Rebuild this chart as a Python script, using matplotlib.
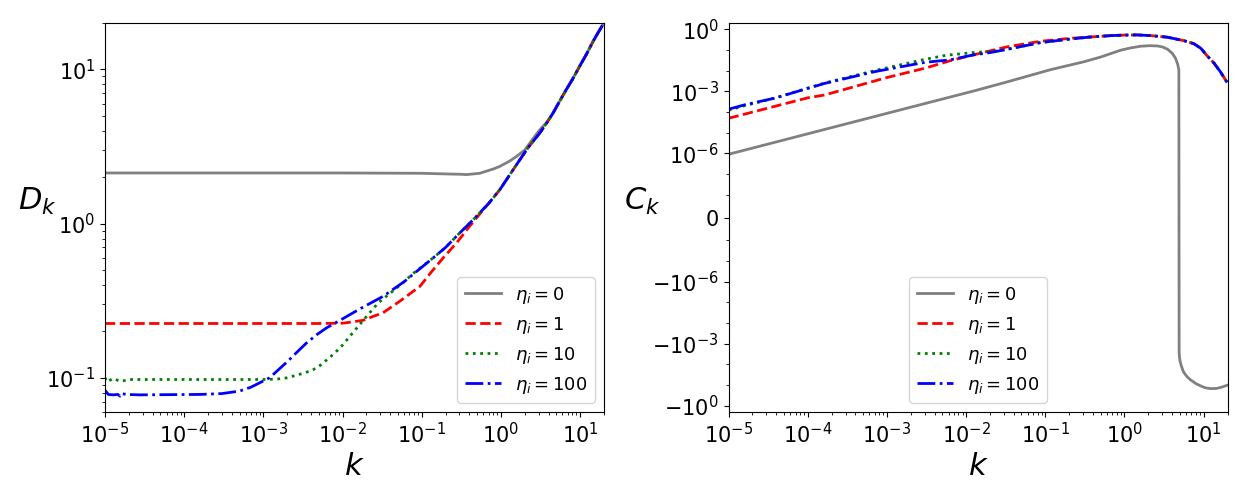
import matplotlib
matplotlib.use("Agg")
import matplotlib.pyplot as plt
import numpy as np
from matplotlib.ticker import FixedLocator

# ---- D_k (left panel) ----
k_d0 = [1e-5, 1e-4, 1e-3, 1e-2, 0.1, 0.2, 0.3, 0.37, 0.54, 0.8, 0.97, 1.3,
        1.58, 2.0, 2.32, 2.7, 3.1, 3.8, 4.57, 5.5, 6.7, 8.0, 10, 12, 14.6, 17, 20]
d_eta0 = [2.13, 2.13, 2.13, 2.13, 2.12, 2.10, 2.09, 2.08, 2.12, 2.26, 2.35, 2.55,
          2.73, 3.0, 3.33, 3.7, 4.06, 4.55, 5.22, 6.2, 7.4, 8.6, 10.6, 12.5,
          15.2, 17.4, 20.0]

k_d1 = [1e-5, 1e-4, 1e-3, 5e-3, 0.01, 0.0123, 0.0182, 0.0243, 0.0325, 0.053,
        0.095, 0.13, 0.187, 0.276, 0.37, 0.5, 0.7, 0.97, 1.3, 1.74, 2.2, 3.1,
        3.8, 4.57, 5.5, 6.7, 8.0, 10, 12, 14.6, 17, 20]
d_eta1 = [0.225, 0.225, 0.225, 0.225, 0.226, 0.229, 0.236, 0.25, 0.264, 0.314,
          0.392, 0.48, 0.6, 0.75, 0.91, 1.1, 1.35, 1.66, 2.08, 2.6, 3.1, 3.87,
          4.5, 5.22, 6.2, 7.4, 8.6, 10.6, 12.5, 15.2, 17.4, 20.0]

k_d10 = [1e-5, 1.05e-5, 1.27e-5, 1.55e-5, 2.17e-5, 1e-4, 1e-3, 1.47e-3, 2e-3,
         2.63e-3, 3.4e-3, 4.27e-3, 5.3e-3, 6.6e-3, 8e-3, 9.7e-3, 0.0136, 0.0192,
         0.0282, 0.0417, 0.06, 0.078, 0.14, 0.2, 0.276, 0.447, 0.7, 0.97, 1.3,
         1.74, 2.2, 3.1, 3.8, 4.57, 5.5, 6.7, 8.0, 10, 12, 14.6, 17, 20]
d_eta10 = [0.1, 0.094, 0.099, 0.095, 0.0975, 0.0975, 0.0975, 0.098, 0.1,
           0.104, 0.108, 0.113, 0.121, 0.133, 0.145, 0.16, 0.197, 0.243,
           0.306, 0.36, 0.42, 0.475, 0.6, 0.7, 0.83, 1.06, 1.35, 1.66, 2.08,
           2.6, 3.1, 3.87, 4.5, 5.22, 6.2, 7.4, 8.6, 10.6, 12.5, 15.2, 17.4, 20.0]

k_d100 = [1e-5, 1.1e-5, 1.27e-5, 1.45e-5, 1.55e-5, 1.6e-5, 1.87e-5, 2.7e-5,
          1.58e-4, 3e-4, 5e-4, 7e-4, 9.06e-4, 1.2e-3, 1.47e-3, 2e-3, 2.6e-3,
          3.5e-3, 4.7e-3, 6.3e-3, 8.4e-3, 0.0166, 0.0327, 0.06, 0.095, 0.14,
          0.2, 0.276, 0.447, 0.7, 0.97, 1.3, 1.74, 2.2, 3.1, 3.8, 4.57, 5.5,
          6.7, 8.0, 10, 12, 14.6, 17, 20]
d_eta100 = [0.083, 0.078, 0.0775, 0.078, 0.076, 0.079, 0.078, 0.0775,
            0.078, 0.079, 0.082, 0.087, 0.093, 0.1, 0.11, 0.127, 0.145,
            0.168, 0.19, 0.211, 0.229, 0.28, 0.338, 0.42, 0.51, 0.6,
            0.7, 0.83, 1.06, 1.35, 1.66, 2.08, 2.6, 3.1, 3.87, 4.5, 5.22, 6.2,
            7.4, 8.6, 10.6, 12.5, 15.2, 17.4, 20.0]

# ---- C_k (right panel) ----
k_c0 = [1e-5, 1e-4, 1e-3, 0.013, 0.0327, 0.116, 0.2, 0.3, 0.5, 0.7, 0.89,
        1.2, 1.6, 2.1, 2.6, 3.0, 3.5, 4.0, 4.4, 4.7, 4.86, 4.90, 4.95, 5.05,
        5.2, 5.4, 5.6, 6.2, 6.8, 8.0, 9.2, 10.5, 12.3, 14.5, 17, 20]
c_eta0 = [8.9e-7, 8.7e-6, 8.5e-5, 1.07e-3, 2.8e-3, 0.011, 0.018, 0.026, 0.045,
          0.07, 0.096, 0.125, 0.15, 0.16, 0.155, 0.14, 0.108, 0.069, 0.04,
          0.02, 0.0107, -0.0026, -0.0045, -0.0075, -0.011, -0.017, -0.024,
          -0.04, -0.055, -0.085, -0.11, -0.135, -0.148, -0.145, -0.125, -0.1]

k_c1 = [1e-5, 1e-4, 1.64e-4, 1e-3, 3.03e-3, 6.3e-3, 0.0123, 0.0201, 0.0327,
        0.0865, 0.2, 0.37, 0.67, 1.0, 1.45, 2.16, 3.5, 5.6, 7.5, 9.2, 11.1,
        13.5, 16.2, 20]
c_eta1 = [4.9e-5, 4.8e-4, 6.6e-4, 4.6e-3, 0.013, 0.03, 0.057, 0.09, 0.14,
          0.26, 0.36, 0.42, 0.49, 0.52, 0.53, 0.49, 0.41, 0.28, 0.2, 0.12,
          0.051, 0.023, 0.0089, 0.0025]

k_c10 = [1e-5, 1.6e-5, 3.8e-5, 1.64e-4, 7.05e-4, 3.03e-3, 5.6e-3, 7.7e-3,
         0.0123, 0.0165, 0.0201, 0.0327, 0.0865, 0.2, 0.37, 0.67, 1.0, 1.45,
         2.16, 3.5, 5.6, 7.5, 9.2, 11.1, 13.5, 16.2, 20]
c_eta10 = [1.2e-4, 2e-4, 4.6e-4, 2.5e-3, 0.01, 0.035, 0.055, 0.062, 0.074,
           0.08, 0.084, 0.107, 0.225, 0.33, 0.42, 0.49, 0.52, 0.53, 0.49,
           0.41, 0.28, 0.2, 0.12, 0.051, 0.023, 0.0089, 0.0025]

k_c100 = [1e-5, 1.6e-5, 3.8e-5, 1.64e-4, 7.05e-4, 3.03e-3, 6.3e-3, 0.0123,
          0.0201, 0.0327, 0.0865, 0.2, 0.37, 0.67, 1.0, 1.45, 2.16, 3.5, 5.6,
          7.5, 9.2, 11.1, 13.5, 16.2, 20]
c_eta100 = [1.35e-4, 2.2e-4, 4.6e-4, 2.4e-3, 8.9e-3, 0.025, 0.033, 0.057,
            0.074, 0.105, 0.225, 0.33, 0.42, 0.49, 0.52, 0.53, 0.49, 0.41,
            0.28, 0.2, 0.12, 0.051, 0.023, 0.0089, 0.0025]

labels = [r'$\eta_i = 0$', r'$\eta_i = 1$', r'$\eta_i = 10$', r'$\eta_i = 100$']
colors = ['gray', 'red', 'green', 'blue']
styles = ['-', '--', ':', '-.']

fig, (ax1, ax2) = plt.subplots(1, 2, figsize=(12.5, 5), dpi=100)
fig.subplots_adjust(left=0.084, right=0.982, bottom=0.176, top=0.954, wspace=0.25)

# lewy panel
for kk, dd, c, s, lab in zip([k_d0, k_d1, k_d10, k_d100],
                             [d_eta0, d_eta1, d_eta10, d_eta100],
                             colors, styles, labels):
    ax1.plot(kk, dd, color=c, linestyle=s, linewidth=2, label=lab)
ax1.set_xscale('log')
ax1.set_yscale('log')
ax1.set_xlim(1e-5, 20)
ax1.set_ylim(0.06, 20)
ax1.set_xlabel(r'$k$', fontsize=22)
ax1.set_ylabel(r'$D_k$', fontsize=22, rotation=0)
ax1.yaxis.set_label_coords(-0.136, 0.5)
ax1.tick_params(labelsize=15)
ax1.legend(loc='lower right', fontsize=13)

# prawy panel
for kk, cc, c, s, lab in zip([k_c0, k_c1, k_c10, k_c100],
                             [c_eta0, c_eta1, c_eta10, c_eta100],
                             colors, styles, labels):
    ax2.plot(kk, cc, color=c, linestyle=s, linewidth=2, label=lab)
ax2.set_xscale('log')
ax2.set_yscale('symlog', linthresh=1e-8)
ax2.set_xlim(1e-5, 20)
ax2.set_ylim(-2, 2)
ax2.yaxis.set_major_locator(FixedLocator([-1, -1e-3, -1e-6, 0, 1e-6, 1e-3, 1]))
minor = [10.0 ** e for e in (-1, -2, -4, -5, -7, -8)]
ax2.yaxis.set_minor_locator(FixedLocator(sorted([-m for m in minor] + minor)))
ax2.set_xlabel(r'$k$', fontsize=22)
ax2.set_ylabel(r'$C_k$', fontsize=22, rotation=0)
ax2.yaxis.set_label_coords(-0.173, 0.5)
ax2.tick_params(labelsize=15)
ax2.legend(loc='lower center', fontsize=13)

fig.savefig('out.png', dpi=100)
